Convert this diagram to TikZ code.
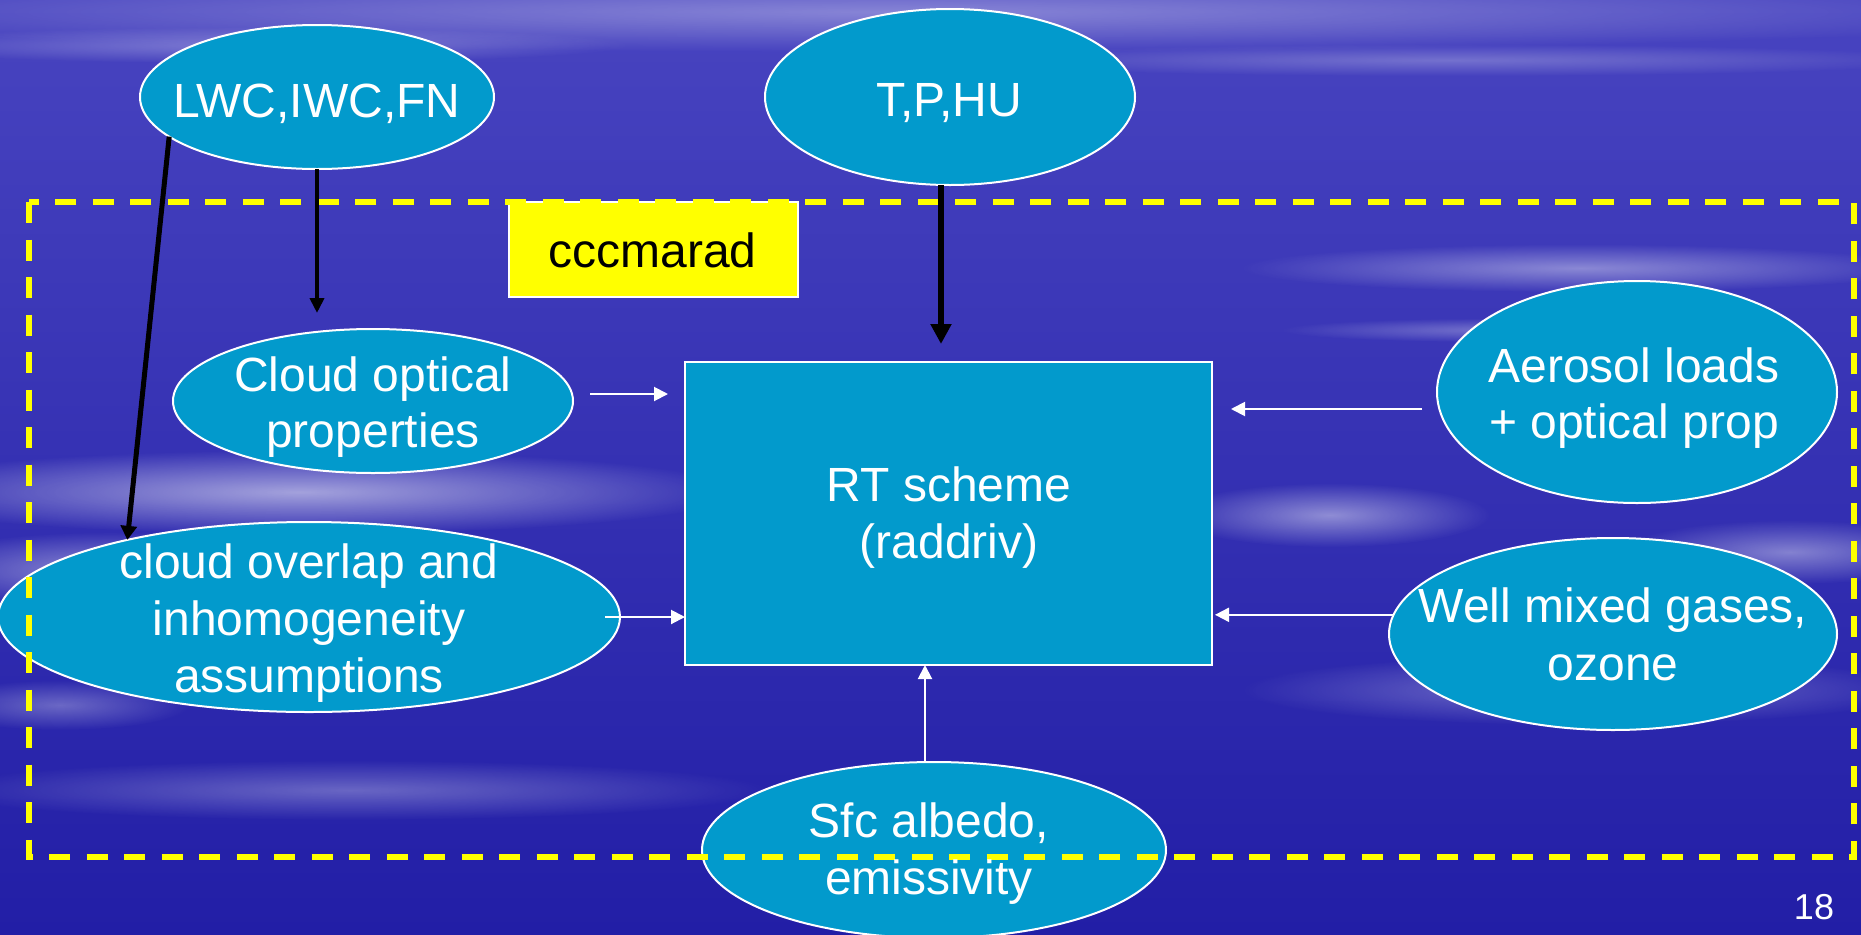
\documentclass[tikz,border=0pt]{standalone}
\usepackage{fontspec}
\setmainfont{Liberation Sans}
\usetikzlibrary{shapes.geometric,arrows.meta,fadings}
\definecolor{bgtop}{RGB}{72,68,192}
\definecolor{bgmid}{RGB}{44,40,176}
\definecolor{bgbot}{RGB}{34,30,166}
\definecolor{nodefill}{RGB}{2,154,204}
\definecolor{dashyellow}{RGB}{255,255,0}
\tikzfading[name=softblob, inner color=transparent!0, outer color=transparent!100]
\newcommand{\cloudstreak}[5]{\fill[white,opacity=#5,path fading=softblob] (#1,#2) ellipse [x radius=#3,y radius=#4];}

\begin{document}
\begin{tikzpicture}[x=0.4pt,y=-0.4pt,
  blob/.style={ellipse,draw=white,line width=0.8pt,fill=nodefill,inner sep=0pt,outer sep=0pt},
  rtbox/.style={rectangle,draw=white,line width=0.8pt,fill=nodefill,inner sep=0pt,outer sep=0pt},
  tagbox/.style={rectangle,draw=white,line width=0.6pt,fill=dashyellow,inner sep=0pt,outer sep=0pt},
  txt/.style={text=white,inner sep=0pt,outer sep=0pt,align=center},
  blk/.style={draw=black,line width=1.6pt,-{Triangle[width=5.6pt,length=6pt]}},
  blkthick/.style={draw=black,line width=2.4pt,-{Triangle[width=8pt,length=8pt]}},
  wht/.style={draw=white,line width=0.8pt,-{Triangle[width=5.6pt,length=5.6pt]}},
  ydash/.style={draw=dashyellow,line width=2.1pt,dash pattern=on 8.4pt off 6.6pt}
]
\useasboundingbox (0,0) rectangle (1861,934);
\clip (0,0) rectangle (1861,934);
% background
\shade[top color=bgtop,middle color=bgmid,bottom color=bgbot] (0,0) rectangle (1861,934);
\cloudstreak{900}{12}{1200}{40}{0.35}
\cloudstreak{250}{45}{380}{18}{0.3}
\cloudstreak{1450}{60}{500}{16}{0.25}
\cloudstreak{1580}{268}{340}{24}{0.4}
\cloudstreak{1500}{330}{220}{12}{0.3}
\cloudstreak{300}{492}{440}{42}{0.55}
\cloudstreak{110}{570}{210}{38}{0.45}
\cloudstreak{1330}{515}{160}{32}{0.45}
\cloudstreak{1790}{552}{170}{32}{0.4}
\cloudstreak{1580}{690}{340}{35}{0.35}
\cloudstreak{350}{790}{420}{30}{0.3}
\cloudstreak{60}{705}{130}{25}{0.3}

% shapes
\node[blob,minimum width=141.6pt,minimum height=57.6pt] (lwc) at (317,97) {};
\node[blob,minimum width=148pt,minimum height=70.4pt] (tphu) at (950,97) {};
\node[blob,minimum width=160pt,minimum height=57.6pt] (copt) at (373,401) {};
\node[blob,minimum width=248.8pt,minimum height=76pt] (ovl) at (309,617) {};
\node[blob,minimum width=160pt,minimum height=88.8pt] (aero) at (1637,392) {};
\node[blob,minimum width=179.2pt,minimum height=76.8pt] (wm) at (1613,634) {};
\node[blob,minimum width=185.6pt,minimum height=70.4pt] (sfc) at (934,850) {};
\node[rtbox,minimum width=210.8pt,minimum height=121.2pt] (rt) at (948.5,513.5) {};
\node[tagbox,minimum width=115.6pt,minimum height=38pt] (tag) at (653.5,249.5) {};

% dashed frame
\draw[ydash] (29,202) rectangle (1854,857);

% texts
\node[txt,font=\fontsize{19.2}{19.2}\selectfont] (lwct) at (317,104) {LWC,IWC,FN};
\node[txt,font=\fontsize{19.2}{19.2}\selectfont] (tphut) at (949,103) {T,P,HU};
\node[txt,text=black,font=\fontsize{19.2}{19.2}\selectfont] (tagt) at (652.5,250) {cccmarad};
\node[txt,font=\fontsize{19.2}{22.4}\selectfont] (coptt) at (373,407) {Cloud optical\\properties};
\node[txt,font=\fontsize{19.2}{22.8}\selectfont] (ovlt) at (309,623) {cloud overlap and\\inhomogeneity\\assumptions};
\node[txt,font=\fontsize{19.2}{22.8}\selectfont] (rtt) at (949,518) {RT scheme\\(raddriv)};
\node[txt,font=\fontsize{19.2}{22.4}\selectfont] (aerot) at (1634,398) {Aerosol loads\\+ optical prop};
\node[txt,font=\fontsize{19.2}{23.2}\selectfont] (wmt) at (1613,634) {Well mixed gases,\\ozone};
\node[txt,font=\fontsize{19.2}{22.8}\selectfont] (sfct) at (929,854) {Sfc albedo,\\emissivity};
\node[txt,font=\fontsize{14.4}{14.4}\selectfont] (pnum) at (1814,907) {18};

% connector end points
\coordinate (tpa) at ([xshift=-3.6pt]tphu.south);
\coordinate (ca) at ([shift={(17,-7)}]copt.east);
\coordinate (oa) at ([xshift=-6pt]ovl.east);
\coordinate (aa) at ([shift={(-15,17)}]aero.west);
\coordinate (sa) at ([xshift=-3.6pt]sfc.north);

% black arrows
\draw[blk,shorten >=6.4pt] (lwc.south) -- (lwc.south |- copt.north);
\draw[blk,line width=2pt,-{Triangle[width=6.4pt,length=5.6pt]}] (lwc.195.8) -- (ovl.157.2);
\draw[blkthick,shorten >=7.2pt] (tpa) -- (tpa |- rt.north);

% white arrows
\draw[wht,shorten >=6.8pt] (ca) -- (ca -| rt.west);
\draw[wht] (oa) -- (rt.west |- oa);
\draw[wht,shorten >=7.6pt] (aa) -- (aa -| rt.east);
\draw[wht,shorten >=1.2pt] (wm.175.6) -- (rt.east |- wm.175.6);
\draw[wht] (sa) -- (sa |- rt.south);
\end{tikzpicture}
\end{document}
